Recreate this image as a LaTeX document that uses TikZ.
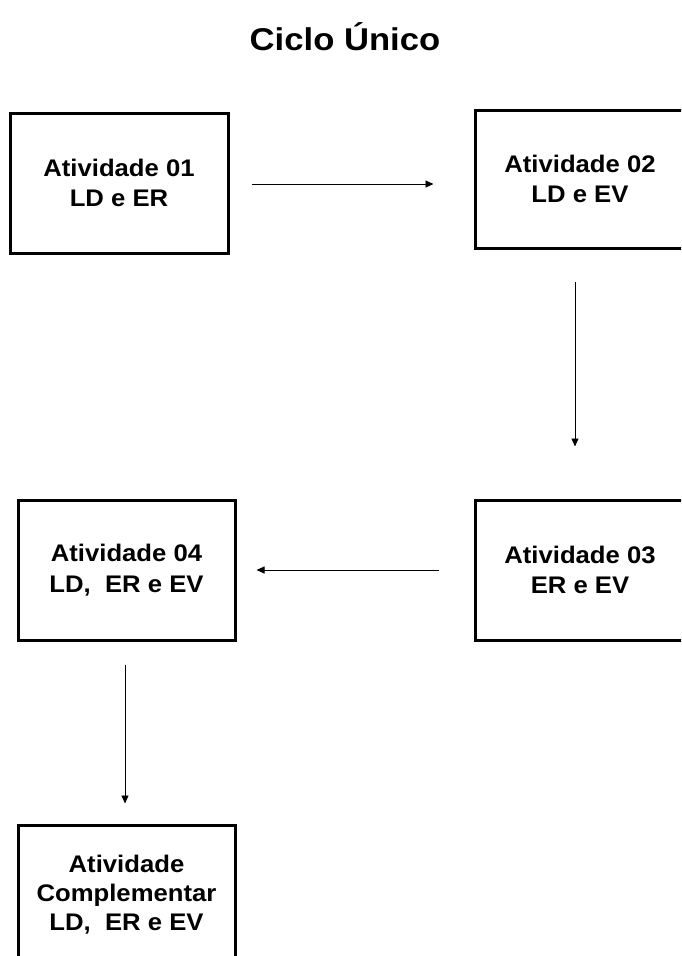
\documentclass[tikz,border=0pt]{standalone}
\usepackage{fontspec}
\setmainfont{Liberation Sans}
\newfontfamily\boxfont[FakeStretch=1.07]{Liberation Sans}
\newfontfamily\titlefont[FakeStretch=1.1]{Liberation Sans}
\usetikzlibrary{arrows.meta,calc}
\begin{document}
\begin{tikzpicture}[x=1pt,y=-1pt,
  box/.style={draw,line width=3pt,minimum width=218pt,minimum height=140pt,
    align=center,inner sep=0pt,font=\boxfont\bfseries\fontsize{24}{30.5}\selectfont},
  arr/.style={line width=0.9pt,-{Triangle[length=8pt,width=7pt]}}]
\clip (0,0) rectangle (681,956);
\useasboundingbox (0,0) rectangle (681,956);
\node[font=\titlefont\bfseries\fontsize{31.5}{34}\selectfont] (title) at (345,37) {Ciclo Único};
\node[box] (b1) at (119,183) {Atividade 01\\LD e ER};
\node[box,minimum width=210pt,minimum height=138pt] (b2) at (580,179) {Atividade 02\\LD e EV};
\node[box,minimum width=210pt] (b3) at (580,570) {Atividade 03\\ER e EV};
\node[box,minimum width=217pt] (b4) at (126.5,570) {Atividade 04\\LD,\ \ ER e EV};
\node[box,minimum width=217pt,font=\boxfont\bfseries\fontsize{24}{29}\selectfont] (b5) at (126.5,895) {Atividade\\Complementar\\LD,\ \ ER e EV};
\coordinate (a1e) at ($(b2.west |- b1.east)+(-40,1)$);
\draw[arr] ([xshift=22pt,yshift=-1pt]b1.east) -- (a1e);
\draw[arr] ([xshift=-5pt,yshift=-32pt]b2.south) -- ([xshift=-5pt,yshift=52pt]b3.north);
\draw[arr] ([xshift=-35pt]b3.west) -- ([xshift=20pt]b4.east);
\draw[arr] ([xshift=-1.5pt,yshift=-23pt]b4.south) -- ([xshift=-1.5pt,yshift=20pt]b5.north);
\end{tikzpicture}
\end{document}
